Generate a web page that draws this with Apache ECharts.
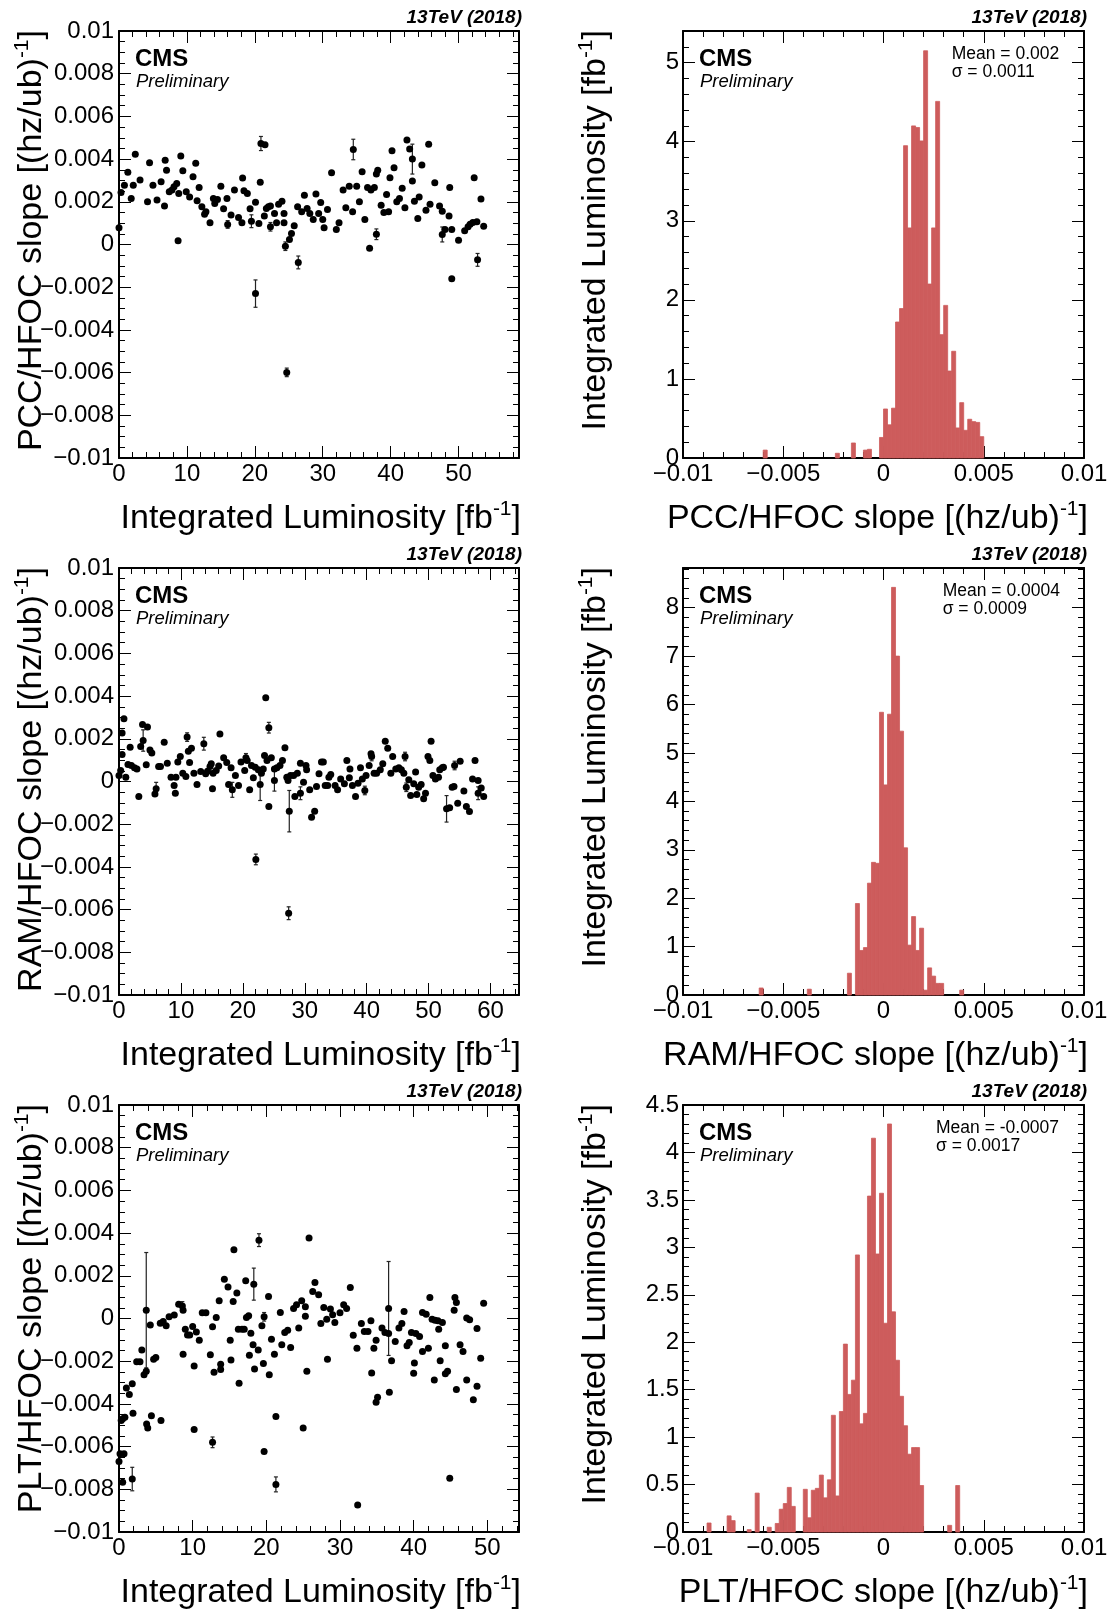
<!DOCTYPE html>
<html><head><meta charset="utf-8">
<script src="https://cdn.jsdelivr.net/npm/echarts@6/dist/echarts.min.js"></script>
<style>html,body{margin:0;padding:0;background:#fff;}#main{width:1110px;height:1612px;}</style>
</head><body><div id="main"></div>
<script>
// slopes are given in units of 1e-3 (hz/ub)^-1
const UNIT = 1e-3;
const BIN_WIDTH = 0.2; // histogram bin width, in 1e-3

// [integrated luminosity fb^-1, slope x1e-3]
const pccPoints = [[0,0.78],[0.3,2.44],[0.8,2.78],[1.3,3.38],[1.8,2.16],[2.1,2.78],[2.4,4.23],[3.1,3.02],[4.2,2.0],[4.5,3.83],[5.0,2.78],[5.6,2.08],[6.2,2.94],[6.7,1.80],[6.8,3.95],[7.0,3.48],[7.4,2.47],[7.8,2.55],[8.1,2.70],[8.5,2.86],[8.7,0.17],[8.8,2.39],[9.1,4.14],[9.4,3.45],[9.9,2.47],[10.4,2.23],[10.9,3.17],[11.3,3.80],[11.5,2.05],[11.8,2.67],[12.2,1.77],[12.6,1.42],[12.8,1.53],[13.4,1.02],[13.9,2.16],[14.1,1.92],[14.5,2.11],[15.0,2.73],[15.4,1.67],[15.9,2.16],[16.0,0.94],[16.5,1.38],[17.0,2.55],[17.6,1.27],[18.1,1.02],[18.2,3.11],[18.4,2.52],[18.9,2.39],[19.3,1.67],[19.5,1.09],[20.1,1.98],[20.1,-2.30],[20.6,0.98],[20.8,2.92],[20.9,4.73],[21.5,4.67],[21.4,1.33],[21.7,1.69],[22.0,1.77],[22.3,0.83],[22.3,1.80],[22.9,1.45],[23.2,1.02],[23.5,1.88],[24.0,2.02],[24.3,1.45],[24.3,1.02],[24.5,-0.08],[24.7,-5.99],[25.1,0.23],[25.4,0.52],[25.8,0.88],[26.3,1.77],[26.4,-0.84],[26.9,1.53],[27.3,2.31],[27.7,1.69],[28.1,1.45],[28.6,1.17],[29.0,2.36],[29.4,1.45],[29.7,1.97],[30.0,1.17],[30.2,0.78],[30.7,1.64],[31.3,3.36],[32.0,0.70],[32.4,1.02],[33.0,2.55],[33.4,1.72],[33.9,2.73],[34.4,1.53],[34.5,4.45],[35.0,2.73],[35.4,2.0],[35.8,3.41],[36.2,1.17],[36.6,2.67],[36.9,-0.17],[37.1,2.55],[37.6,2.67],[37.9,3.30],[37.9,0.48],[38.1,3.48],[38.6,1.84],[39.0,1.50],[39.4,2.34],[39.7,1.53],[39.9,3.13],[40.2,4.39],[40.5,3.59],[40.9,2.0],[41.3,2.16],[41.7,2.63],[42.1,1.72],[42.4,4.89],[42.8,4.47],[43.2,4.0],[43.2,2.98],[43.5,2.03],[44.0,1.22],[44.2,2.23],[44.6,3.72],[45.2,1.61],[45.6,4.69],[45.8,1.88],[46.5,2.89],[47.2,1.80],[47.6,1.56],[47.6,0.47],[48.0,0.70],[48.6,1.34],[48.7,2.67],[49.0,0.70],[49.0,-1.61],[50.0,0.20],[50.9,0.64],[51.4,0.83],[51.7,0.95],[52.1,1.03],[52.3,3.13],[52.7,1.06],[52.8,-0.72],[53.3,2.13],[53.7,0.86]];
// [lumi, slope, error] x1e-3
const pccErrors = [[16.0,0.94,0.18],[19.5,1.09,0.3],[20.1,-2.30,0.64],[20.9,4.73,0.33],[22.3,0.83,0.2],[24.5,-0.08,0.2],[24.7,-5.99,0.2],[26.4,-0.84,0.3],[34.5,4.45,0.48],[37.9,0.48,0.25],[43.2,4.0,0.7],[47.6,0.47,0.35],[52.8,-0.72,0.3]];

const ramPoints = [[0,0.28],[0.27,0.52],[0.5,2.27],[0.5,1.27],[0.8,2.94],[1.1,0.2],[1.45,0.8],[1.8,1.61],[2.0,0.75],[2.5,0.64],[2.9,0.59],[3.2,-0.70],[3.5,1.64],[3.8,2.67],[3.9,1.92],[4.4,0.78],[4.6,2.55],[5.0,1.48],[5.3,1.33],[5.8,-0.58],[6.0,-0.34],[6.4,0.70],[6.7,0.70],[7.3,1.84],[7.8,0.86],[8.4,0.20],[8.9,-0.19],[9.1,-0.55],[9.2,0.20],[9.5,0.91],[9.9,1.17],[10.3,0.39],[10.8,0.23],[11.0,2.08],[11.2,1.42],[11.4,0.89],[11.7,1.56],[12.1,0.39],[12.6,-0.14],[13.2,0.47],[13.7,1.77],[14.0,0.36],[14.3,0.48],[14.7,0.70],[14.9,0.83],[15.1,-0.34],[15.2,0.39],[15.7,0.52],[16.1,0.73],[16.3,2.23],[16.9,1.11],[17.4,0.89],[17.7,-0.14],[18.1,0.64],[18.3,-0.39],[18.8,0.28],[19.3,-0.19],[19.7,0.91],[20.3,0.52],[20.5,1.11],[20.7,0.98],[21.1,-0.39],[21.4,0.75],[21.7,0.17],[22.0,0.67],[22.1,-3.65],[22.5,0.55],[22.8,-0.14],[23.0,0.39],[23.3,0.59],[23.5,1.22],[23.7,3.92],[23.9,0.98],[24.2,2.52],[24.2,-1.17],[24.6,1.11],[25.1,0.59],[25.1,0.05],[25.5,0.64],[26.0,0.75],[26.4,0.98],[26.8,1.58],[27.1,0.20],[27.3,0.05],[27.4,-6.17],[27.5,-1.39],[27.7,0.28],[28.2,0.28],[28.4,-0.70],[28.8,0.39],[29.3,0.86],[29.3,-0.55],[29.8,-0.03],[30.2,0.75],[30.3,0.55],[30.8,-0.39],[31.1,-1.67],[31.6,-1.39],[31.9,-0.23],[32.3,0.36],[32.7,0.91],[33.0,0.91],[33.3,-0.19],[33.7,-0.19],[33.9,0.20],[34.2,0.33],[34.9,-0.19],[35.3,-0.39],[35.8,0.12],[36.4,-0.11],[36.8,0.98],[37.2,0.17],[37.3,0.59],[37.7,-0.19],[38.2,-0.70],[38.6,-0.08],[39.0,0.64],[39.3,0.12],[39.7,-0.42],[39.9,0.28],[40.4,0.75],[40.7,1.30],[40.8,1.17],[41.2,0.39],[41.6,0.39],[42.2,0.55],[42.6,0.83],[43.0,1.89],[43.4,1.56],[43.9,0.39],[44.2,1.17],[44.7,0.59],[45.2,0.64],[45.6,0.55],[46.0,0.39],[46.2,1.17],[46.4,-0.27],[46.8,0.08],[47.1,-0.66],[47.6,-0.11],[47.9,0.44],[48.1,-0.61],[48.4,-0.27],[48.8,-0.14],[49.2,-0.81],[49.5,-0.55],[49.9,1.17],[50.2,0.98],[50.4,1.89],[50.7,0.28],[51.1,0.12],[51.6,0.20],[51.8,0.55],[52.2,0.64],[52.4,0.67],[52.9,-1.28],[53.4,-1.23],[53.8,-0.27],[54.1,-0.23],[54.2,0.75],[54.7,-1.02],[55.1,0.95],[55.7,-0.45],[56.1,-1.17],[56.6,-1.41],[57.1,0.12],[57.5,0.98],[58.0,0.05],[58.0,-0.55],[58.5,-0.30],[58.9,-0.70]];
const ramErrors = [[3.9,1.92,0.5],[6.0,-0.34,0.3],[11.0,2.08,0.2],[13.7,1.77,0.3],[18.3,-0.39,0.35],[20.5,1.11,0.2],[22.1,-3.65,0.25],[22.8,-0.14,0.75],[24.2,2.52,0.25],[25.1,0.05,0.5],[27.4,-6.17,0.3],[27.5,-1.39,0.97],[29.3,-0.55,0.3],[39.7,-0.42,0.2],[40.8,1.17,0.2],[46.2,1.17,0.2],[46.4,-0.27,0.2],[52.9,-1.28,0.62],[54.2,0.75,0.2],[58.0,-0.55,0.3]];

const pltPoints = [[0,-6.70],[0.14,-6.34],[0.68,-6.34],[0.5,-7.67],[0.3,-4.78],[0.5,-4.70],[0.8,-4.63],[1.0,-3.25],[1.4,-3.56],[1.8,-3.06],[1.9,-4.44],[1.8,-7.52],[2.4,-2.02],[2.85,-2.02],[3.1,-1.48],[3.4,-2.64],[3.7,-2.47],[3.7,0.39],[3.75,-4.94],[3.9,-5.13],[4.25,-0.30],[4.4,-4.55],[4.7,-1.91],[5.0,-1.83],[5.6,-0.22],[5.7,-4.78],[6.0,-0.14],[6.4,-0.34],[6.8,0.08],[7.5,0.16],[8.1,0.67],[8.6,0.59],[8.7,0.39],[8.7,-1.67],[9.0,-0.5],[9.3,-0.77],[9.6,-0.77],[10.0,-0.38],[10.2,-2.23],[10.2,-5.20],[10.5,-0.63],[10.9,-1.02],[11.3,0.27],[11.8,0.27],[12.4,-1.70],[12.7,-0.39],[12.7,-5.80],[12.9,-2.52],[13.2,0.05],[13.6,0.83],[13.8,-2.14],[13.8,-2.39],[14.3,1.84],[14.8,1.48],[15.1,-1.02],[15.2,-1.94],[15.5,0.80],[15.6,3.22],[16.0,1.19],[16.2,-0.50],[16.3,-3.03],[16.7,-0.50],[17.0,-0.50],[17.2,1.77],[17.3,0.05],[17.6,0.13],[17.7,-1.72],[17.9,-0.69],[18.2,-1.23],[18.3,1.61],[18.4,-2.36],[18.9,-1.47],[19.0,3.67],[19.4,-0.34],[19.6,-2.11],[19.7,0.08],[19.7,-6.23],[20.3,1.03],[20.4,-2.63],[20.7,-0.97],[21.1,-1.67],[21.3,-4.59],[21.3,-7.77],[21.9,0.28],[22.1,-1.23],[22.5,-0.66],[22.9,-0.55],[23.3,-1.36],[23.7,0.47],[24.1,0.64],[24.4,-0.45],[24.8,0.83],[25.0,-5.13],[25.3,0.11],[25.3,0.55],[25.5,-2.47],[25.8,3.77],[26.3,1.27],[26.6,1.69],[27.1,1.11],[27.4,-0.23],[27.8,0.52],[28.2,-0.03],[28.3,-1.91],[28.7,0.44],[29.0,0.17],[29.3,-0.19],[30.0,0.27],[30.5,0.64],[30.9,0.47],[31.4,1.45],[31.8,-0.78],[32.3,-1.39],[32.4,-8.73],[32.9,-0.23],[33.3,-0.61],[33.8,-0.61],[34.2,-0.11],[34.3,-2.55],[34.6,-1.39],[34.9,-1.02],[34.9,-3.92],[35.1,-3.69],[35.7,-0.45],[36.1,-0.66],[36.6,0.47],[36.6,-0.70],[36.7,-3.45],[37.0,-1.98],[37.5,-1.08],[38.0,-0.45],[38.4,-0.23],[38.7,0.33],[39.1,-1.28],[39.4,-1.12],[39.7,-0.66],[40.0,-2.56],[40.1,-2.09],[40.3,-0.70],[40.8,-0.84],[41.2,0.28],[41.2,-1.55],[41.7,0.20],[42.0,-1.39],[42.2,0.98],[42.5,-0.03],[42.8,-2.88],[42.9,-0.08],[43.3,-0.11],[43.4,-0.50],[43.6,-1.98],[43.9,-0.19],[44.3,-1.28],[44.3,-2.59],[44.6,-2.47],[44.9,-7.48],[45.5,0.39],[45.6,0.98],[45.8,0.75],[45.8,-3.33],[46.3,-1.23],[46.7,-1.55],[47.2,0.02],[47.2,-2.88],[47.6,-0.06],[48.1,-3.80],[48.6,-0.47],[48.6,-3.17],[49.1,-1.86],[49.5,0.72]];
const pltErrors = [[1.8,-7.52,0.55],[3.7,0.39,2.7],[8.6,0.59,0.2],[12.7,-5.80,0.25],[18.3,1.61,0.75],[19.0,3.67,0.3],[19.7,0.08,0.2],[21.3,-7.77,0.35],[36.6,0.47,2.2]];

// histograms: [bin low edge x1e-3, integrated luminosity fb^-1]
const pccHist = [[-6.0,0.10],[-2.4,0.06],[-1.6,0.19],[-1.0,0.10],[-0.8,0.11],[-0.2,0.26],[0.0,0.62],[0.2,0.42],[0.4,0.63],[0.6,1.72],[0.8,1.89],[1.0,3.95],[1.2,2.91],[1.4,4.20],[1.6,4.18],[1.8,4.01],[2.0,5.15],[2.2,2.20],[2.4,2.91],[2.6,4.51],[2.8,1.56],[3.0,1.93],[3.2,1.10],[3.4,1.35],[3.6,0.38],[3.8,0.70],[4.0,0.35],[4.2,0.49],[4.4,0.46],[4.6,0.45],[4.8,0.27]];
const ramHist = [[-6.2,0.145],[-3.8,0.12],[-1.8,0.45],[-1.4,1.89],[-1.2,0.92],[-1.0,0.98],[-0.8,2.31],[-0.6,2.74],[-0.4,2.72],[-0.2,5.84],[0.0,4.34],[0.2,5.80],[0.4,8.42],[0.6,7.00],[0.8,5.45],[1.0,3.04],[1.2,1.03],[1.4,1.62],[1.6,0.92],[1.8,1.38],[2.0,0.10],[2.2,0.56],[2.4,0.39],[2.6,0.24],[2.8,0.24],[3.8,0.10]];
const pltHist = [[-8.8,0.095],[-7.8,0.17],[-7.6,0.12],[-6.8,0.025],[-6.4,0.41],[-5.8,0.05],[-5.4,0.09],[-5.2,0.24],[-5.0,0.30],[-4.8,0.47],[-4.6,0.27],[-4.0,0.45],[-3.8,0.15],[-3.6,0.44],[-3.4,0.46],[-3.2,0.60],[-3.0,0.36],[-2.8,0.55],[-2.6,1.23],[-2.4,0.38],[-2.2,1.27],[-2.0,1.98],[-1.8,1.45],[-1.6,1.60],[-1.4,2.92],[-1.2,1.14],[-1.0,1.25],[-0.8,3.54],[-0.6,4.15],[-0.4,2.93],[-0.2,3.57],[0.0,2.20],[0.2,4.30],[0.4,2.32],[0.6,1.81],[0.8,1.43],[1.0,1.12],[1.2,0.82],[1.4,0.89],[1.6,0.89],[1.8,0.49],[3.2,0.07],[3.6,0.49]];

const detectors = ['PCC/HFOC', 'RAM/HFOC', 'PLT/HFOC'];
const lumiMax = [58.9, 64.6, 54.3];
const histMax = [5.4, 8.82, 4.5];
const histMajor = [1, 1, 0.5];
const histMinor = [0.2, 0.2, 0.1];
const histMean = ['Mean = 0.002', 'Mean = 0.0004', 'Mean = -0.0007'];
const histSigma = ['\u03C3 = 0.0011', '\u03C3 = 0.0009', '\u03C3 = 0.0017'];
const energyLabel = '13TeV (2018)';

const allPoints = [pccPoints, ramPoints, pltPoints];
const allErrors = [pccErrors, ramErrors, pltErrors];
const allHists = [pccHist, ramHist, pltHist];

const FONT = '"Liberation Sans", Arial, Helvetica, sans-serif';
const ROW_TOP = [31, 568, 1105];
const ROW_OFF = [0, 537, 1074];
const PH = 427;
const COLS = [{left: 119, width: 400}, {left: 683, width: 401}];
const HIST_COLOR = '#CD5C5C';
const TITLE_SIZE = 34;

function fmt(v) {
  const r = Math.round(v * 1e6) / 1e6;
  return String(r).replace('-', '\u2212');
}

const grids = [], xAxes = [], yAxes = [], series = [], graphics = [];

function axisSet(gi, dim, min, max, major, minor, showMax, margin) {
  const pos = dim === 'x' ? ['bottom', 'top'] : ['left', 'right'];
  const arr = [];
  pos.forEach((p, k) => {
    arr.push({
      type: 'value', gridIndex: gi, position: p, min: min, max: max, interval: major,
      axisLine: {show: true, onZero: false, lineStyle: {color: '#000', width: 2}},
      axisTick: {show: true, inside: true, length: 12, lineStyle: {color: '#000', width: 1}},
      axisLabel: {show: k === 0, color: '#000', fontSize: 24, fontFamily: FONT, margin: margin,
                  formatter: fmt, showMinLabel: true, showMaxLabel: showMax},
      splitLine: {show: false}, minorTick: {show: false}
    });
    arr.push({
      type: 'value', gridIndex: gi, position: p, min: min, max: max, interval: minor,
      axisLine: {show: false, onZero: false},
      axisTick: {show: true, inside: true, length: 6, lineStyle: {color: '#000', width: 1}},
      axisLabel: {show: false}, splitLine: {show: false}
    });
  });
  return arr;
}

function text(x, y, str, font, align, extra) {
  return Object.assign({
    type: 'text', x: x, y: y, silent: true,
    style: {text: str, x: 0, y: 0, font: font, fill: '#000', textAlign: align,
            textVerticalAlign: 'middle', verticalAlign: 'middle'}
  }, extra || {});
}

function richText(x, y, main, align, rotated) {
  return {
    type: 'text', x: x, y: y, rotation: rotated ? Math.PI / 2 : 0, silent: true,
    style: {
      text: '{a|' + main + '}{s|-1}{a|]}',
      rich: {
        a: {fontSize: TITLE_SIZE, fontFamily: FONT, color: '#000', lineHeight: 40},
        s: {fontSize: 21, fontFamily: FONT, color: '#000', lineHeight: 24, verticalAlign: 'top'}
      },
      x: 0, y: 0, fill: '#000', font: TITLE_SIZE + 'px ' + FONT,
      textAlign: align, textVerticalAlign: 'middle', verticalAlign: 'middle'
    }
  };
}

function errRender(params, api) {
  const x = api.value(0), y = api.value(1), e = api.value(2);
  const a = api.coord([x, y + e]), b = api.coord([x, y - e]);
  const st = {stroke: '#222', lineWidth: 1.2};
  return {type: 'group', children: [
    {type: 'line', shape: {x1: a[0], y1: a[1], x2: b[0], y2: b[1]}, style: st},
    {type: 'line', shape: {x1: a[0] - 2, y1: a[1], x2: a[0] + 2, y2: a[1]}, style: st},
    {type: 'line', shape: {x1: b[0] - 2, y1: b[1], x2: b[0] + 2, y2: b[1]}, style: st}
  ]};
}

function histRender(params, api) {
  const x0 = api.value(0), h = api.value(1);
  const p0 = api.coord([x0, h]);
  const p1 = api.coord([x0 + BIN_WIDTH * UNIT, 0]);
  return {type: 'rect', shape: {x: p0[0], y: p0[1], width: p1[0] - p0[0], height: p1[1] - p0[1]},
          style: {fill: HIST_COLOR, stroke: HIST_COLOR, lineWidth: 0.8}};
}

for (let r = 0; r < 3; r++) {
  for (let c = 0; c < 2; c++) {
    const gi = r * 2 + c;
    grids.push({left: COLS[c].left, top: ROW_TOP[r], width: COLS[c].width, height: PH,
                containLabel: false, outerBoundsMode: 'none', show: false});
    const ax = gi * 4;
    if (c === 0) {
      xAxes.push(...axisSet(gi, 'x', 0, lumiMax[r], 10, 2, false, 4));
      yAxes.push(...axisSet(gi, 'y', -0.01, 0.01, 0.002, 0.0005, true, 5));
      series.push({
        type: 'custom', xAxisIndex: ax, yAxisIndex: ax, renderItem: errRender, z: 2,
        dimensions: ['x', 'y', 'e'], encode: {x: 0, y: 1},
        data: allErrors[r].map(e => [e[0], e[1] * UNIT, e[2] * UNIT])
      });
      series.push({
        type: 'scatter', xAxisIndex: ax, yAxisIndex: ax, symbol: 'circle', symbolSize: 7, z: 3,
        itemStyle: {color: '#000', opacity: 1},
        data: allPoints[r].map(p => [p[0], p[1] * UNIT])
      });
    } else {
      xAxes.push(...axisSet(gi, 'x', -0.01, 0.01, 0.005, 0.001, true, 4));
      yAxes.push(...axisSet(gi, 'y', 0, histMax[r], histMajor[r], histMinor[r], r === 2, 4));
      series.push({
        type: 'custom', xAxisIndex: ax, yAxisIndex: ax, renderItem: histRender, z: 1,
        dimensions: ['x', 'h'], encode: {x: 0, y: 1},
        data: allHists[r].map(h => [h[0] * UNIT, h[1]])
      });
    }
    const L = COLS[c].left, R = COLS[c].left + COLS[c].width, off = ROW_OFF[r];
    graphics.push(text(R + 3, 17.5 + off, energyLabel, 'italic bold 19px ' + FONT, 'right'));
    graphics.push(text(L + 16, 59 + off, 'CMS', 'bold 24px ' + FONT, 'left'));
    graphics.push(text(L + 17, 81.5 + off, 'Preliminary', 'italic 18.5px ' + FONT, 'left'));
    if (c === 0) {
      graphics.push(richText(521, 519 + off, 'Integrated Luminosity [fb', 'right', false));
      graphics.push(richText(32, 30 + off, detectors[r] + ' slope [(hz/ub)', 'right', true));
    } else {
      graphics.push(richText(1088, 519 + off, detectors[r] + ' slope [(hz/ub)', 'right', false));
      graphics.push(richText(596, 30 + off, 'Integrated Luminosity [fb', 'right', true));
      const mx = [951.7, 942.7, 936][r];
      graphics.push(text(mx, 54 + off, histMean[r], '17.5px ' + FONT, 'left'));
      graphics.push(text(mx, 72.5 + off, histSigma[r], '17.5px ' + FONT, 'left'));
    }
  }
}

const chart = echarts.init(document.getElementById('main'), null, {renderer: 'canvas', width: 1110, height: 1612});
chart.setOption({
  animation: false,
  backgroundColor: '#fff',
  grid: grids,
  xAxis: xAxes,
  yAxis: yAxes,
  series: series,
  graphic: {elements: graphics}
});
</script></body></html>
